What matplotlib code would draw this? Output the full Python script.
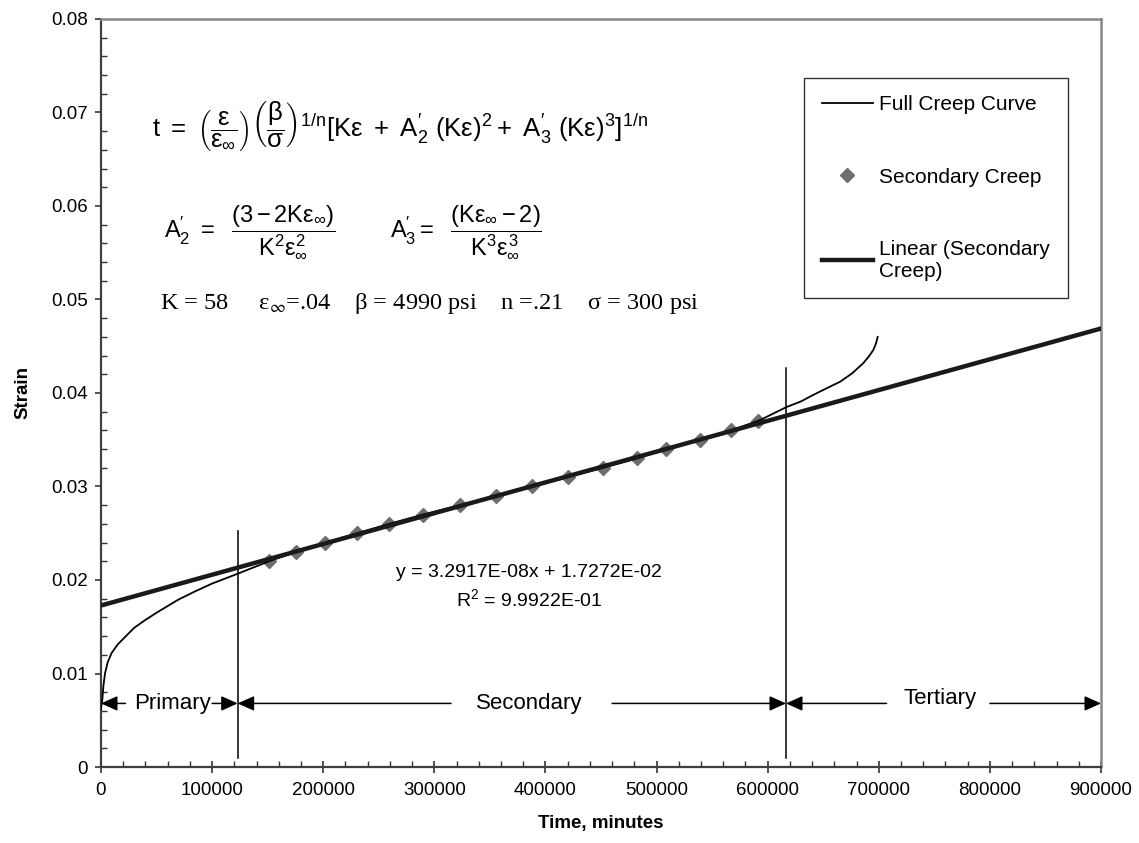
import numpy as np
import matplotlib
matplotlib.use('Agg')
import matplotlib.pyplot as plt
from matplotlib.lines import Line2D
from matplotlib.ticker import MultipleLocator, FuncFormatter

plt.rcParams['font.family'] = ['Liberation Sans', 'DejaVu Sans']
plt.rcParams['mathtext.fontset'] = 'custom'
plt.rcParams['mathtext.rm'] = 'Liberation Sans'
plt.rcParams['mathtext.it'] = 'Liberation Sans'
plt.rcParams['mathtext.bf'] = 'Liberation Sans:bold'

# Full creep curve (time in minutes, strain)
full_t = [0, 300, 1200, 2100, 3600, 6000, 9600, 15000, 21600, 30000, 39600, 50000,
          69600, 85000, 99600, 123600,
          151200, 175500, 201600, 230400, 259200, 289800, 323100, 355500,
          387900, 420300, 451800, 482400, 508500, 539100, 567000, 593100,
          617000, 630000, 641100, 653000, 665100, 676000, 686100, 691000,
          695100, 697500, 699000]
full_eps = [0.0062, 0.0066, 0.0072, 0.0086, 0.0100, 0.0112, 0.0122, 0.0131, 0.0139, 0.0149,
            0.0157, 0.0165, 0.0179, 0.0188, 0.0196, 0.0207,
            0.0220, 0.0230, 0.0240, 0.0250, 0.0260, 0.0270, 0.0280, 0.0290,
            0.0300, 0.0310, 0.0320, 0.0330, 0.0340, 0.0350, 0.0360, 0.0371,
            0.0385, 0.0391, 0.0398, 0.0405, 0.0412, 0.0421, 0.0432, 0.0439,
            0.0446, 0.0453, 0.0460]

# Secondary creep points
sec_t = [151200, 175500, 201600, 230400, 259200, 289800, 323100, 355500,
         387900, 420300, 451800, 482400, 508500, 539100, 567000, 591300]
sec_eps = [0.022, 0.023, 0.024, 0.025, 0.026, 0.027, 0.028, 0.029,
           0.030, 0.031, 0.032, 0.033, 0.034, 0.035, 0.036, 0.037]

# trendline coefficients as printed on the chart
slope = 3.2917e-08
intercept = 1.7272e-02
trend_x = [0, 900000]

# stage boundaries and names
bounds = [0, 123000, 616500, 900000]
stages = ['Primary', 'Secondary', 'Tertiary']

fig = plt.figure(figsize=(11.39, 8.43), dpi=100)
ax = fig.add_axes([101 / 1139, 1 - 767 / 843, 1000 / 1139, 748 / 843])

ax.plot(sec_t, sec_eps, ls='none', marker='D', ms=7, color='#6e6e6e', zorder=2)
ax.plot(full_t, full_eps, color='black', lw=1.3, zorder=3)
trend_y = [slope * x + intercept for x in trend_x]
ax.plot(trend_x, trend_y, color='#1a1a1a', lw=3.2, zorder=4)

# stage boundaries
for b in bounds[1:3]:
    top = 0.0252 if b < 300000 else 0.0427
    ax.plot([b, b], [0.001, top], color='black', lw=1.1, zorder=3)

# stage arrows
ya = 0.0068
aprops = dict(arrowstyle='-|>,head_length=1.0,head_width=0.45', color='black', lw=1.1,
              shrinkA=0, shrinkB=0)
segs = [(22000, 0), (100000, 123000),
        (315000, 123000), (460000, 616500),
        (707000, 616500), (800000, 900000)]
for xs, xe in segs:
    ax.annotate('', xy=(xe, ya), xytext=(xs, ya), arrowprops=aprops, zorder=5)
ax.text(64000, ya, stages[0], fontsize=16, ha='center', va='center')
ax.text(385000, ya, stages[1], fontsize=16, ha='center', va='center')
ax.text(755000, ya + 0.0005, stages[2], fontsize=16, ha='center', va='center')

# formulas
ax.text(46000, 0.0685,
        r'$\mathrm{t\ =\ }\left(\dfrac{\varepsilon}{\varepsilon_{\infty}}\right)'
        r'\left(\dfrac{\beta}{\sigma}\right)^{1/\mathrm{n}}'
        r'[\mathrm{K}\varepsilon\ +\ \mathrm{A}_{2}^{\prime}\ (\mathrm{K}\varepsilon)^{2}+'
        r'\ \mathrm{A}_{3}^{\prime}\ (\mathrm{K}\varepsilon)^{3}]^{1/\mathrm{n}}$',
        fontsize=18.5, va='center', ha='left')
ax.text(57000, 0.0572,
        r'$\mathrm{A}_{2}^{\prime}\ =\ \ \dfrac{(3-2\mathrm{K}\varepsilon_{\infty})}'
        r'{\mathrm{K}^{2}\varepsilon_{\infty}^{2}}$',
        fontsize=17, va='center', ha='left')
ax.text(260000, 0.0572,
        r'$\mathrm{A}_{3}^{\prime}=\ \ \dfrac{(\mathrm{K}\varepsilon_{\infty}-2)}'
        r'{\mathrm{K}^{3}\varepsilon_{\infty}^{3}}$',
        fontsize=17, va='center', ha='left')
ax.text(53000, 0.0496,
        r'K = 58     ε$_{\infty}$=.04    β = 4990 psi    n =.21    σ = 300 psi',
        fontsize=17.6, va='center', ha='left', family='Liberation Serif',
        math_fontfamily='stix')

ax.text(385000, 0.0208, 'y = 3.2917E-08x + 1.7272E-02', fontsize=14, ha='center', va='center')
ax.text(385000, 0.0179, r'R$^{2}$ = 9.9922E-01', fontsize=14, ha='center', va='center')

ax.set_xlim(0, 900000)
ax.set_ylim(0, 0.08)
ax.xaxis.set_major_locator(MultipleLocator(100000))
ax.xaxis.set_minor_locator(MultipleLocator(20000))
ax.yaxis.set_major_locator(MultipleLocator(0.01))
ax.yaxis.set_minor_locator(MultipleLocator(0.002))
ax.xaxis.set_major_formatter(FuncFormatter(lambda v, p: '%d' % round(v)))
ax.yaxis.set_major_formatter(FuncFormatter(lambda v, p: '%g' % round(v, 3)))
ax.tick_params(axis='x', which='major', direction='inout', length=9, width=1.2,
               labelsize=13.5, color='#333333', pad=6)
ax.tick_params(axis='x', which='minor', direction='in', length=4.5, width=1.0, color='#333333')
ax.tick_params(axis='y', which='major', direction='out', length=4.5, width=1.2,
               labelsize=13.5, color='#333333', pad=5)
ax.tick_params(axis='y', which='minor', direction='in', length=4.5, width=1.0, color='#333333')

for side in ['left', 'bottom']:
    ax.spines[side].set_color('#404040')
    ax.spines[side].set_linewidth(1.6)
for side in ['top', 'right']:
    ax.spines[side].set_color('#888888')
    ax.spines[side].set_linewidth(1.8)

ax.set_xlabel('Time, minutes', fontsize=13.5, fontweight='bold', labelpad=12)
ax.set_ylabel('Strain', fontsize=13.5, fontweight='bold', labelpad=14)

handles = [Line2D([], [], color='black', lw=1.3),
           Line2D([], [], ls='none', marker='D', ms=7, color='#6e6e6e'),
           Line2D([], [], color='#1a1a1a', lw=3.2)]
labels = ['Full Creep Curve', 'Secondary Creep', 'Linear (Secondary\nCreep)']
leg = ax.legend(handles, labels, loc='upper left', bbox_to_anchor=(0.703, 0.9215),
                borderaxespad=0, fontsize=15, frameon=True, fancybox=False,
                edgecolor='black', labelspacing=2.55, handlelength=2.45,
                handletextpad=0.3, borderpad=0.85)
leg.get_frame().set_linewidth(1.0)

fig.savefig('out.png', dpi=100)
